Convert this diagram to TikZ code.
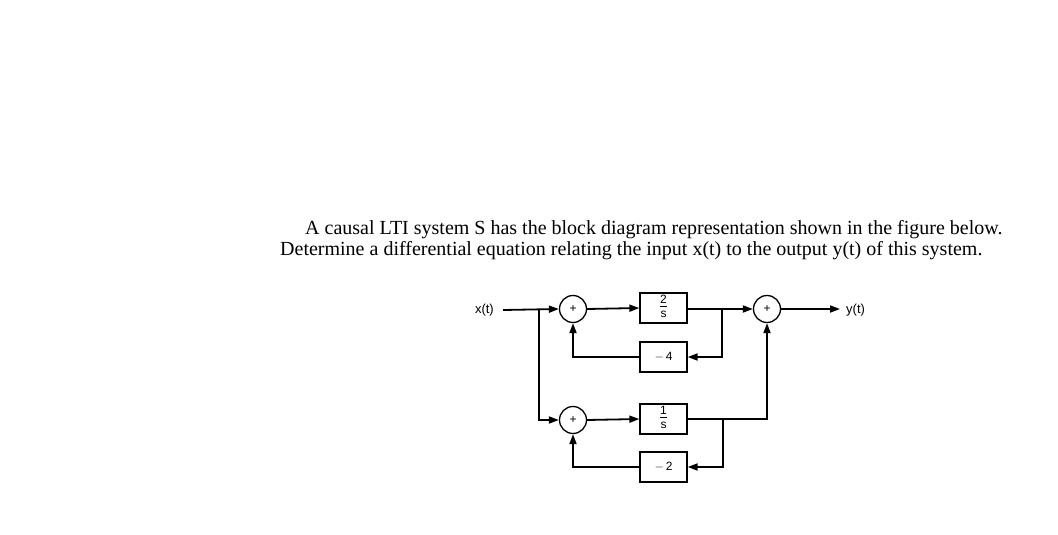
\documentclass[tikz,border=0pt]{standalone}
\usepackage{fontspec}
\setmainfont{Liberation Serif}
\newfontfamily\diagfont{Liberation Sans}
\usetikzlibrary{arrows.meta,calc}
\newcommand{\blockfrac}[2]{\begin{tabular}{@{}c@{}}#1\\[-1pt]\hline\rule{0pt}{10pt}#2\end{tabular}}
\begin{document}
\begin{tikzpicture}[x=1pt,y=-1pt,
  wire/.style={line width=1.8pt},
  arr/.style={wire,-{Triangle[length=10pt,width=7pt]}},
  sumnode/.style={circle,draw,line width=1.3pt,minimum size=27pt,inner sep=0pt,font=\diagfont\fontsize{12}{12}\selectfont},
  gainbox/.style={rectangle,draw,line width=1.3pt,minimum width=47pt,minimum height=30pt,inner sep=0pt,font=\diagfont\fontsize{12}{12}\selectfont},
  lbl/.style={font=\diagfont\fontsize{13}{13}\selectfont,inner sep=0pt},
  txt/.style={font=\fontsize{20}{24}\selectfont,inner sep=0pt,anchor=base west}]
\useasboundingbox (0,0) rectangle (1058,535);
\node[txt] (l1) at (305,234) {A causal LTI system S has the block diagram representation shown in the figure below.};
\node[txt] (l2) at (280,255) {Determine a differential equation relating the input x(t) to the output y(t) of this system.};
\node[lbl,anchor=east] (xt) at (494,310) {x(t)};
\coordinate (br1) at (539,309);
\node[sumnode] (add1) at (573,309) {+};
\node[gainbox] (g2s) at (663.5,308) {\arrayrulewidth=0.9pt\blockfrac{2}{s}};
\node[gainbox] (m4) at (663.5,357) {$-$\,4};
\coordinate (j1) at (722,309);
\node[sumnode] (add3) at (767,309) {+};
\node[lbl,anchor=west] (yt) at (846,310) {y(t)};
\coordinate (yend) at (840,309);
\node[sumnode] (add2) at (573,420) {+};
\node[gainbox] (g1s) at (663.5,419) {\arrayrulewidth=0.9pt\blockfrac{1}{s}};
\node[gainbox] (m2) at (663.5,467) {$-$\,2};
\coordinate (j2) at (723,419);
\draw[arr] ([xshift=9pt]xt.east) -- (add1.west);
\draw[arr] (add1.east) -- (g2s.west);
\draw[arr] (g2s.east |- add1) -- (add3.west);
\draw[arr] (j1) -- (j1 |- m4) -- (m4.east);
\draw[arr] (m4.west) -- (add1 |- m4) -- (add1.south);
\draw[arr] (br1) -- (br1 |- add2) -- (add2.west);
\draw[arr] (add2.east) -- (g1s.west);
\draw[arr] (g1s.east) -- (add3 |- g1s) -- (add3.south);
\draw[arr] (j2) -- (j2 |- m2) -- (m2.east);
\draw[arr] (m2.west) -- (add2 |- m2) -- (add2.south);
\draw[arr] (add3.east) -- (yend);
\end{tikzpicture}
\end{document}
